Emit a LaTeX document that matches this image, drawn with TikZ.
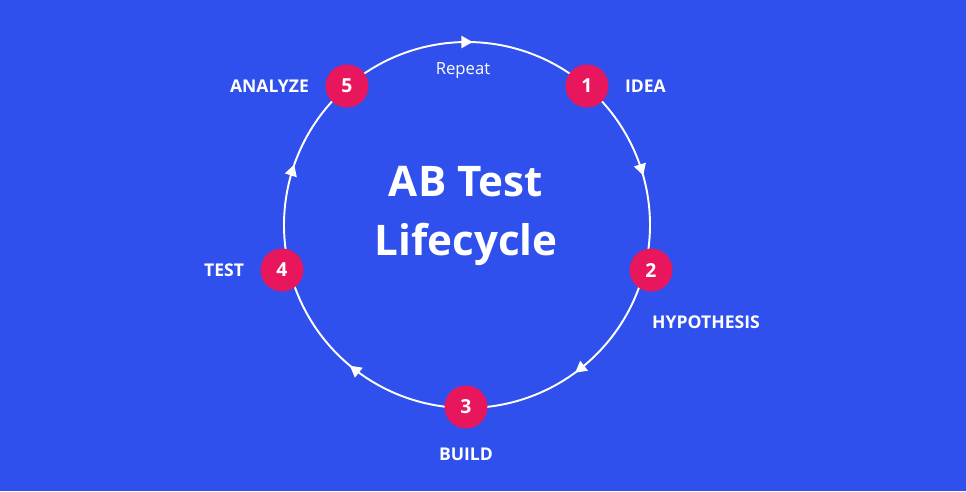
\documentclass[tikz,border=0pt]{standalone}
\usepackage{fontspec}
\setmainfont{Open Sans}
\usepackage{tikz}
\usetikzlibrary{decorations.markings,positioning}
\definecolor{bgblue}{HTML}{2F50EC}
\definecolor{dotred}{HTML}{E8175D}

\begin{document}
\begin{tikzpicture}[
        x=0.02cm, y=0.02cm,
        stepdot/.style = {circle, fill=dotred, minimum size=0.86cm, inner sep=0pt, text=white, font=\bfseries\fontsize{11}{13}\selectfont},
        tag/.style = {text=white, font=\bfseries\fontsize{10}{12}\selectfont},
        ring/.style = {white, line width=1.1pt, postaction={decorate}, decoration={markings, mark=at position 0.5 with {\fill[white] (3.2pt,0) -- (-3.2pt,3.6pt) -- (-3.2pt,-3.6pt) -- cycle;}}}
    ]
    \fill[bgblue] (0,0) rectangle (966,491);
    \useasboundingbox (0,0) rectangle (966,491);

    % ring centre
    \coordinate (c) at (467,266);

    % arcs with arrow marks
    \draw[ring] (c) ++(131:183) arc[start angle=131, end angle=49, radius=3.66cm];
    \draw[ring] (c) ++(49:183) arc[start angle=49, end angle=-14, radius=3.66cm];
    \draw[ring] (c) ++(-14:183) arc[start angle=-14, end angle=-90, radius=3.66cm];
    \draw[ring] (c) ++(-90:183) arc[start angle=-90, end angle=-166, radius=3.66cm];
    \draw[ring] (c) ++(194:183) arc[start angle=194, end angle=131, radius=3.66cm];

    % steps
    \node[stepdot] (s1) at (587,405) {1};
    \node[stepdot] (s2) at (651,221) {2};
    \node[stepdot] (s3) at (466,84) {3};
    \node[stepdot] (s4) at (282,221) {4};
    \node[stepdot] (s5) at (347,405) {5};

    % labels
    \node[tag, right=0.2cm of s1] (idea) {IDEA};
    \node[tag] (hyp) at (706,169) {HYPOTHESIS};
    \node[tag] (build) at (466,37) {BUILD};
    \node[tag, left=0.2cm of s4] (test) {TEST};
    \node[tag, left=0.2cm of s5] (ana) {ANALYZE};
    \node[text=white, font=\fontsize{9.5}{11}\selectfont] (rep) at (463,420) {Repeat};

    % title
    \node[text=white, font=\bfseries\fontsize{24}{34}\selectfont, align=center] (title) at (466,275) {AB Test\\Lifecycle};
\end{tikzpicture}
\end{document}
